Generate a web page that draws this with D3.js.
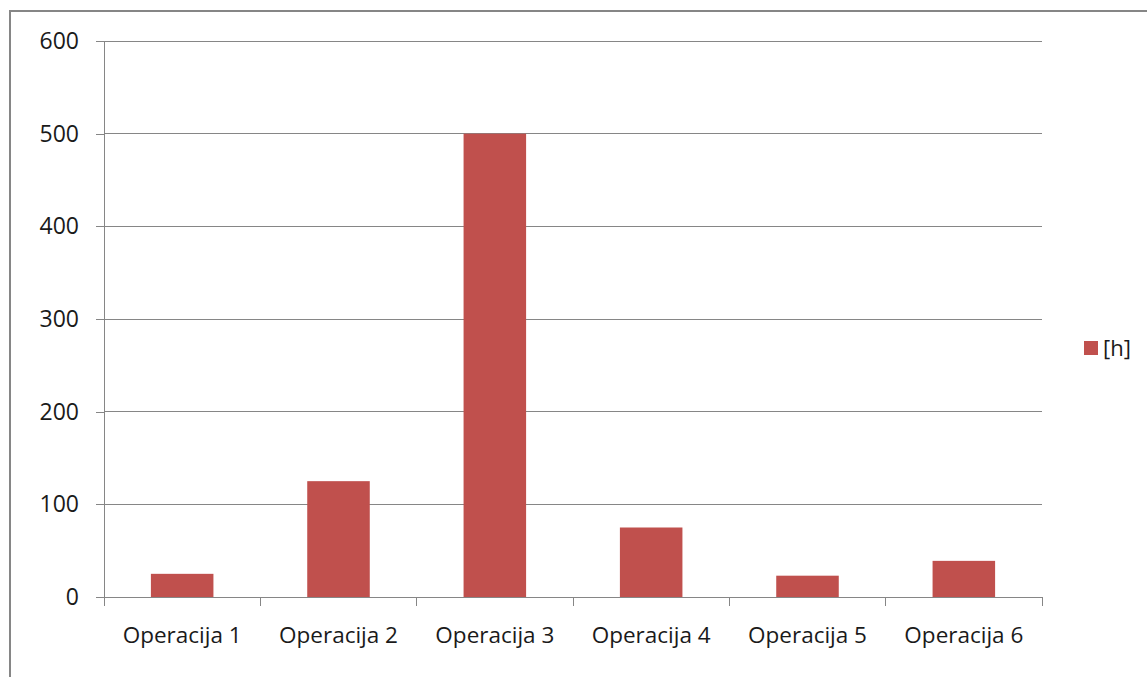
<!DOCTYPE html>
<html>
<head>
<meta charset="utf-8">
<script src="https://cdn.jsdelivr.net/npm/d3@7"></script>
<style>
  html, body { margin: 0; padding: 0; background: #fff; overflow: hidden; }
  text { font-family: "Open Sans", sans-serif; fill: #1a1a1a; }
</style>
</head>
<body>
<div id="chart"></div>
<script>
const categories = ['Operacija 1', 'Operacija 2', 'Operacija 3', 'Operacija 4', 'Operacija 5', 'Operacija 6'];
const hours = [25, 125, 500, 75, 23, 39];
const yTicks = [0, 100, 200, 300, 400, 500, 600];
const seriesName = '[h]';

const W = 1147, H = 677;
const margin = { top: 41, right: 105, bottom: 80, left: 104 };
const width = W - margin.left - margin.right;
const height = H - margin.top - margin.bottom;
const barColor = '#c0504d';
const axisColor = '#868686';

const root = d3.select('#chart').append('svg')
  .attr('width', W)
  .attr('height', H);

// outer frame
root.append('rect')
  .attr('x', 10).attr('y', 11)
  .attr('width', 1140).attr('height', 680)
  .attr('fill', 'none')
  .attr('stroke', axisColor)
  .attr('stroke-width', 2);

const svg = root.append('g')
  .attr('transform', `translate(${margin.left},${margin.top})`);

const x = d3.scaleBand()
  .domain(categories)
  .range([0, width])
  .padding(0);

const y = d3.scaleLinear()
  .domain([0, 600])
  .range([height, 0]);

// gridlines
svg.selectAll('.grid')
  .data(yTicks.filter(d => d > 0))
  .enter()
  .append('line')
  .attr('x1', 0).attr('x2', width)
  .attr('y1', d => y(d)).attr('y2', d => y(d))
  .attr('stroke', axisColor)
  .attr('stroke-width', 1)
  .attr('shape-rendering', 'crispEdges');

// bars
const bw = x.bandwidth() * 0.4;
svg.selectAll('.bar')
  .data(hours)
  .enter()
  .append('rect')
  .attr('class', 'bar')
  .attr('x', (d, i) => x(categories[i]) + (x.bandwidth() - bw) / 2)
  .attr('y', d => y(d))
  .attr('width', bw)
  .attr('height', d => height - y(d))
  .attr('fill', barColor);

// y axis
const yAxis = svg.append('g')
  .call(d3.axisLeft(y).tickValues(yTicks).tickSize(8).tickPadding(17).tickFormat(d3.format('d')));
yAxis.select('.domain').attr('stroke', axisColor);
yAxis.selectAll('.tick line').attr('stroke', axisColor);
yAxis.selectAll('text').style('font-size', '23px').attr('fill', '#1a1a1a');
yAxis.attr('shape-rendering', 'crispEdges');

// x axis
const xAxis = svg.append('g')
  .attr('transform', `translate(0,${height})`)
  .call(d3.axisBottom(x).tickSize(0).tickPadding(30));
xAxis.select('.domain').attr('stroke', axisColor);
xAxis.selectAll('text').style('font-size', '22.5px').attr('fill', '#1a1a1a');
xAxis.attr('shape-rendering', 'crispEdges');

// category separators
const bounds = categories.map(c => x(c)).concat([width]);
xAxis.selectAll('.sep')
  .data(bounds)
  .enter()
  .append('line')
  .attr('x1', d => d).attr('x2', d => d)
  .attr('y1', 0).attr('y2', 9)
  .attr('stroke', axisColor);

// legend
const legend = root.append('g')
  .attr('transform', `translate(1084,341)`);
legend.append('rect')
  .attr('width', 14).attr('height', 14)
  .attr('fill', barColor);
legend.append('text')
  .attr('x', 19).attr('y', 7)
  .attr('dy', '0.35em')
  .style('font-size', '22px')
  .text(seriesName);
</script>
</body>
</html>
